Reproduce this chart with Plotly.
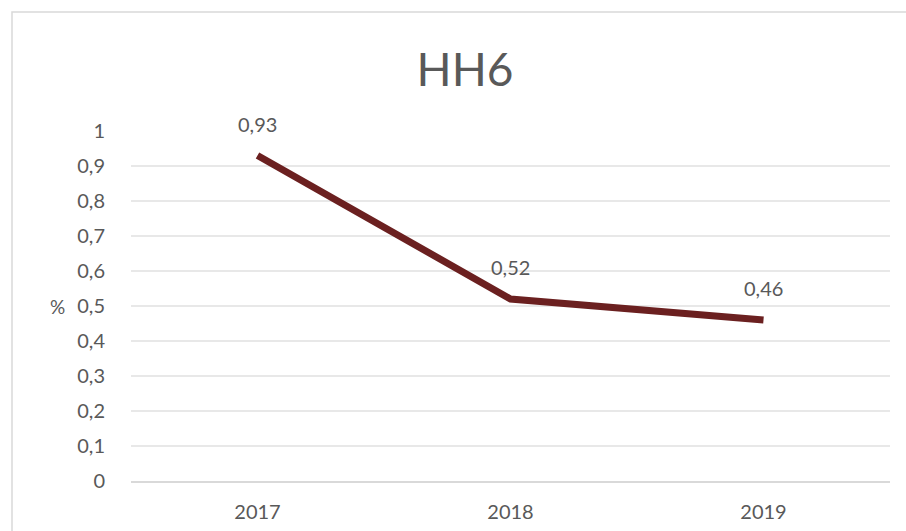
import plotly.graph_objects as go

years = ["2017", "2018", "2019"]
values = [0.93, 0.52, 0.46]
value_labels = ["0,93", "0,52", "0,46"]
title_text = "HH6"
y_label = "%"

W, H = 906, 531
L, R, T, B = 131, 16, 131, 50
pw, ph = W - L - R, H - T - B

fig = go.Figure()
fig.add_trace(go.Scatter(
    x=years, y=values, mode="lines",
    line=dict(color="#6B2020", width=7),
    hoverinfo="skip", showlegend=False,
))
for i, (v, lab) in enumerate(zip(values, value_labels)):
    fig.add_annotation(x=i, y=v, text=lab, showarrow=False, yshift=32,
                       font=dict(size=20, color="#595959"))

fig.add_annotation(xref="paper", yref="y", x=(57 - L) / pw, y=0.5, text=y_label,
                   xanchor="center", showarrow=False,
                   font=dict(size=19, color="#595959"))

# outer chart border
fig.add_shape(type="rect", xref="paper", yref="paper",
              x0=(12 - L) / pw, x1=(W + 10 - L) / pw,
              y0=-(H + 10 - T - ph) / ph, y1=1 + (T - 12) / ph,
              line=dict(color="#D9D9D9", width=1.5), layer="below")

fig.update_layout(
    width=W, height=H,
    margin=dict(l=L, r=R, t=T, b=B, autoexpand=False),
    paper_bgcolor="white", plot_bgcolor="white",
    separators=",.",
    font=dict(family="Lato, Open Sans, sans-serif", color="#595959"),
    title=dict(text=title_text, x=465 / W, xref="container", xanchor="center",
               y=1 - 70 / H, yref="container", yanchor="middle",
               font=dict(size=46, color="#595959")),
    xaxis=dict(type="category", showgrid=False, zeroline=False,
               showline=True, linecolor="#D9D9D9", linewidth=1.5,
               ticks="outside", ticklen=12, tickcolor="rgba(0,0,0,0)",
               tickfont=dict(size=20, color="#595959"), range=[-0.5, 2.5],
               automargin=False),
    yaxis=dict(range=[0, 1], dtick=0.1, tick0=0, showgrid=True,
               gridcolor="#E8E8E8", gridwidth=1.5, zeroline=False,
               showline=False, ticks="outside", ticklen=21,
               tickcolor="rgba(0,0,0,0)",
               tickfont=dict(size=20, color="#595959"), automargin=False),
)

fig.write_html("out.html")
